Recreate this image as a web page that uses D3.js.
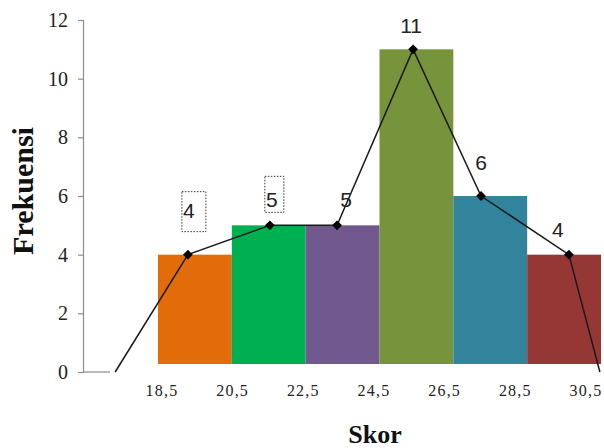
<!DOCTYPE html>
<html>
<head>
<meta charset="utf-8">
<script src="https://cdn.jsdelivr.net/npm/d3@7"></script>
<style>
  html, body { margin: 0; padding: 0; background: #ffffff; }
  svg { display: block; }
</style>
</head>
<body>
<div id="chart"></div>
<script>
// ---- data ----
const classBounds = [18.5, 20.5, 22.5, 24.5, 26.5, 28.5, 30.5];
const tickLabels = ["18,5", "20,5", "22,5", "24,5", "26,5", "28,5", "30,5"];
const frequencies = [4, 5, 5, 11, 6, 4];
const barColors = ["#E36C0A", "#00B050", "#71588F", "#77933C", "#31849B", "#953735"];
const yTicks = [0, 2, 4, 6, 8, 10, 12];
// frequency polygon (score positions)
const polygonScore = [17.34, 19.31, 21.53, 23.35, 25.41, 27.25, 29.63, 30.47];
const polygonFreq = [0, 4, 5, 5, 11, 6, 4, 0];
const yTitle = "Frekuensi";
const xTitle = "Skor";

// ---- layout ----
const W = 604, H = 448;
const svg = d3.select("#chart").append("svg").attr("width", W).attr("height", H);

const x = d3.scaleLinear().domain([18.5, 30.5]).range([158, 601]);
const xLab = d3.scaleLinear().domain([18.5, 30.5]).range([162, 586]);
const y = d3.scaleLinear().domain([0, 12]).range([372, 20]);

// bars
const bars = frequencies.map((f, i) => ({ f, x0: classBounds[i], x1: classBounds[i + 1], c: barColors[i] }));
svg.append("g").selectAll("rect").data(bars).join("rect")
  .attr("x", d => x(d.x0))
  .attr("width", d => x(d.x1) - x(d.x0))
  .attr("y", d => y(d.f))
  .attr("height", d => y(0) - 8 - y(d.f))
  .attr("fill", d => d.c);

// y axis
const yAxis = d3.axisLeft(y).tickValues(yTicks).tickSize(5).tickPadding(10).tickFormat(d3.format("d"));
const gy = svg.append("g").attr("transform", "translate(83,0)").call(yAxis);
gy.select(".domain").attr("stroke", "#8c8c8c").attr("stroke-width", 1.2);
gy.selectAll(".tick line").attr("stroke", "#8c8c8c").attr("stroke-width", 1.2);
gy.selectAll(".tick text")
  .attr("font-family", "'Liberation Serif', 'Times New Roman', serif")
  .attr("font-size", 20).attr("fill", "#222").attr("x", -15);

// short x baseline
svg.append("line").attr("x1", 83).attr("x2", 110).attr("y1", y(0)).attr("y2", y(0))
  .attr("stroke", "#8c8c8c").attr("stroke-width", 1.2);

// x tick labels
svg.append("g").selectAll("text").data(classBounds).join("text")
  .attr("x", d => xLab(d))
  .attr("y", 396)
  .attr("text-anchor", "middle")
  .attr("font-family", "'Liberation Serif', 'Times New Roman', serif")
  .attr("font-size", 16)
  .attr("letter-spacing", 1.2)
  .attr("fill", "#222")
  .text((d, i) => tickLabels[i]);

// polygon
const pts = polygonScore.map((s, i) => ({ s, f: polygonFreq[i] }));
svg.append("path").datum(pts)
  .attr("d", d3.line().x(d => x(d.s)).y(d => y(d.f)))
  .attr("fill", "none").attr("stroke", "#1a1a1a").attr("stroke-width", 1.5);

const inner = pts.slice(1, -1);
svg.append("g").selectAll("path").data(inner).join("path")
  .attr("d", d3.symbol().type(d3.symbolSquare).size(48))
  .attr("transform", d => `translate(${x(d.s)},${y(d.f)}) rotate(45)`)
  .attr("fill", "#000");

// data labels
const labelOffsets = [[1, -37], [2, -18], [9, -18], [-2, -16], [0, -26], [-11, -18]];
const boxes = [[-7, -26, 17, 14], [-7, -31, 12, 5], null, null, null, null]; // left, top, right, bottom rel. to label anchor
const lg = svg.append("g");
inner.forEach((d, i) => {
  const lx = x(d.s) + labelOffsets[i][0];
  const ly = y(d.f) + labelOffsets[i][1];
  if (boxes[i]) {
    const b = boxes[i];
    lg.append("rect")
      .attr("x", lx + b[0]).attr("y", ly + b[1])
      .attr("width", b[2] - b[0]).attr("height", b[3] - b[1])
      .attr("fill", "none").attr("stroke", "#333").attr("stroke-width", 1)
      .attr("stroke-dasharray", "1.5,1.5");
  }
  lg.append("text")
    .attr("x", lx).attr("y", ly)
    .attr("text-anchor", "middle")
    .attr("font-family", "'Liberation Sans', Arial, sans-serif")
    .attr("font-size", 21)
    .attr("fill", "#222")
    .text(d.f);
});

// axis titles
svg.append("text")
  .attr("transform", "translate(33,191) rotate(-90)")
  .attr("text-anchor", "middle")
  .attr("font-family", "'Liberation Serif', 'Times New Roman', serif")
  .attr("font-weight", "bold").attr("font-size", 30).attr("fill", "#111")
  .text(yTitle);

svg.append("text")
  .attr("x", 375).attr("y", 443)
  .attr("text-anchor", "middle")
  .attr("font-family", "'Liberation Serif', 'Times New Roman', serif")
  .attr("font-weight", "bold").attr("font-size", 26).attr("fill", "#111")
  .text(xTitle);
</script>
</body>
</html>
